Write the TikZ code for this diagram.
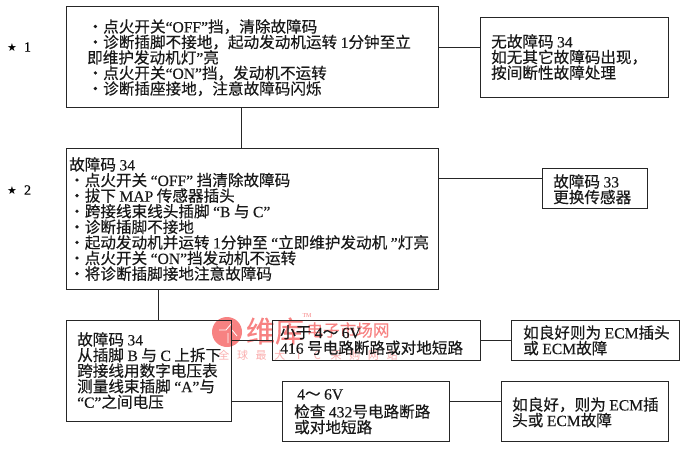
\documentclass[tikz,border=0pt]{standalone}
\usepackage{fontspec}
\setmainfont{Liberation Serif}[Ligatures=TeX]
\newfontfamily\cjk{Noto Sans CJK SC}[AutoFakeBold=0.4]
\newfontfamily\lat{Liberation Serif}[AutoFakeBold=0.3]
\newfontfamily\symf{DejaVu Sans}
\newcommand{\la}[1]{{\lat\bfseries #1}}
\newcommand{\cbox}[1]{\makebox[11pt]{#1}\hspace{7.7pt}}
\begin{document}
\begin{tikzpicture}[x=1pt,y=-1pt,
  box/.style={draw=black!85,line width=0.9pt,inner sep=0pt},
  link/.style={draw=black!85,line width=0.9pt},
  txt/.style={anchor=north west,inner sep=0pt,align=left,text=black!90,font=\fontsize{15.6}{15.6}\selectfont\cjk\bfseries},
  wm/.style={inner sep=0pt,anchor=center}]
\useasboundingbox (0,0) rectangle (700,459);
\definecolor{wmred}{RGB}{247,130,130}
\definecolor{wmpale}{RGB}{250,175,175}
% watermark
\fill[wmred] (227,332) circle (15);
\draw[white,line width=0.8pt] (219,330) -- (226,330) -- (232,323) (232,330) -- (237,336) (228,343) -- (228,333);
\node[wm,text=wmred,font=\fontsize{29}{29}\selectfont\cjk\bfseries] (wma) at (275,331) {维库};
\node[wm,text=wmred,font=\fontsize{16.6}{17}\selectfont\cjk\bfseries] (wmb) at (348,330) {电子市场网};
\node[wm,text=wmred,font=\fontsize{6}{6}\selectfont\lat] (wmt) at (307,316) {TM};
\node[wm,text=wmpale,font=\fontsize{11}{11}\selectfont\cjk] (wmc) at (308,355) {\cbox{全}\cbox{球}\cbox{最}\cbox{大}\cbox{I}\cbox{C}\cbox{采}\cbox{购}\cbox{网}\makebox[11pt]{站}};
% boxes
\node[box,minimum width=372pt,minimum height=101pt] (b1) at (252,56.5) {};
\node[box,minimum width=188pt,minimum height=80pt] (r1) at (574,57) {};
\node[box,minimum width=372pt,minimum height=141pt] (b2) at (252,218.5) {};
\node[box,minimum width=105pt,minimum height=40pt] (r2) at (594.5,188) {};
\node[box,minimum width=165pt,minimum height=101pt] (b3) at (148.5,370.5) {};
\node[box,minimum width=208pt,minimum height=40pt] (c1) at (376,340) {};
\node[box,minimum width=168pt,minimum height=40pt] (d1) at (595,340) {};
\node[box,minimum width=167pt,minimum height=60pt] (c2) at (365.5,411) {};
\node[box,minimum width=167pt,minimum height=60pt] (d2) at (584.5,411) {};
% connectors
\coordinate (j1) at (241,107);
\coordinate (j2) at (241,148);
\coordinate (j3) at (158,289);
\coordinate (j4) at (158,320);
\draw[link] (j1) -- (j2);
\draw[link] (j3) -- (j4);
\draw[link] (b1.east |- 0,47) -- (r1.west |- 0,47);
\draw[link] (b2.east |- 0,178) -- (r2.west |- 0,178);
\draw[link] (b3.east |- 0,340) -- (c1.west |- 0,340);
\draw[link] (c1.east) -- (d1.west);
\draw[link] (b3.east |- 0,401) -- (c2.west |- 0,401);
\draw[link] (c2.east |- 0,401) -- (d2.west |- 0,401);
% side labels
\node[anchor=west,inner sep=0pt,font=\fontsize{14}{14}\selectfont] (s1) at (7,47) {{\symf\fontsize{11}{11}\selectfont ★}\hspace{7pt}\la{1}};
\node[anchor=west,inner sep=0pt,font=\fontsize{14}{14}\selectfont] (s2) at (7,190) {{\symf\fontsize{11}{11}\selectfont ★}\hspace{7pt}\la{2}};
% texts
\node[txt] (t1) at (87.4,19) {・点火开关\la{“OFF”}挡，清除故障码};
\node[txt] (t1b) at (87.4,34.5) {・诊断插脚不接地，起动发动机运转 \la{1}分钟至立};
\node[txt] (t1c) at (87,50) {即维护发动机灯\la{”}亮};
\node[txt] (t1d) at (87.4,65.5) {・点火开关\la{“ON”}挡，发动机不运转};
\node[txt] (t1e) at (87.4,81) {・诊断插座接地，注意故障码闪烁};
\node[txt] (t2) at (491,34) {无故障码 \la{34}\\如无其它故障码出现，\\按间断性故障处理};
\node[txt] (t3) at (69,157) {故障码 \la{34}\\・点火开关 \la{“OFF”} 挡清除故障码\\・拔下 \la{MAP} 传感器插头\\・跨接线束线头插脚 \la{“B} 与 \la{C”}\\・诊断插脚不接地\\・起动发动机并运转 \la{1}分钟至 \la{“}立即维护发动机 \la{”}灯亮\\・点火开关 \la{“ON”}挡发动机不运转\\・将诊断插脚接地注意故障码};
\node[txt] (t4) at (553,174) {故障码 \la{33}\\更换传感器};
\node[txt] (t5) at (77,332) {故障码 \la{34}\\从插脚 \la{B} 与 \la{C} 上拆下\\跨接线用数字电压表\\测量线束插脚 \la{“A”}与\\\la{“C”}之间电压};
\node[txt] (t6) at (280,325) {小于 \la{4}～ \la{6V}\\\la{416} 号电路断路或对地短路};
\node[txt] (t7) at (523,325) {如良好则为 \la{ECM}插头\\或 \la{ECM}故障};
\node[txt] (t8) at (297,389) {\la{4}～ \la{6V}};
\node[txt] (t8b) at (294,404) {检查 \la{432}号电路断路\\或对地短路};
\node[txt] (t9) at (512,397) {如良好，则为 \la{ECM}插\\头或 \la{ECM}故障};
\end{tikzpicture}
\end{document}
